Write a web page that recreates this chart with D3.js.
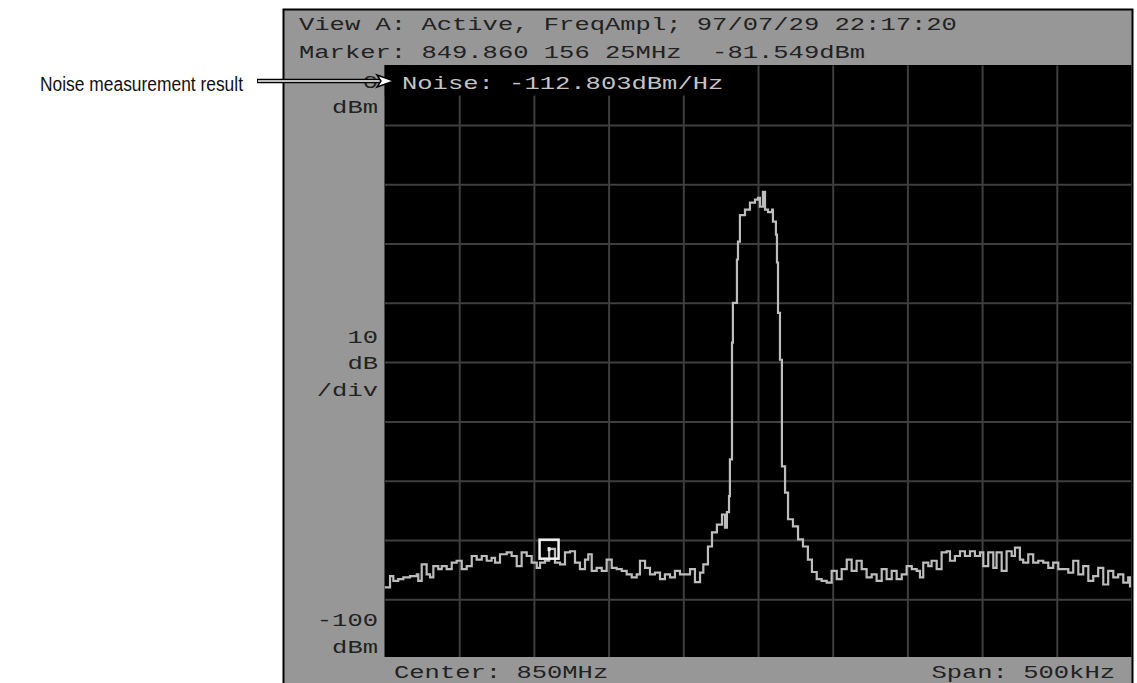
<!DOCTYPE html>
<html>
<head>
<meta charset="utf-8">
<script src="https://cdn.jsdelivr.net/npm/d3@7"></script>
<style>
  html, body { margin: 0; padding: 0; background: #ffffff; }
  svg { display: block; }
</style>
</head>
<body>
<svg id="chart" width="1137" height="683"></svg>
<script>
// ---------------- DATA ----------------
const centerMHz = 850;
const spanKHz = 500;
const refLevelDbm = 0;
const dbPerDiv = 10;
const bottomLevelDbm = -100;

const headerLines = [
  "View A: Active, FreqAmpl; 97/07/29 22:17:20",
  "Marker: 849.860 156 25MHz  -81.549dBm"
];
const noiseText = "Noise: -112.803dBm/Hz";
const centerText = "Center: 850MHz";
const spanText = "Span: 500kHz";
const topAxisLabels = ["0", "dBm"];
const midAxisLabels = ["10", "dB", "/div"];
const bottomAxisLabels = ["-100", "dBm"];
const calloutText = "Noise measurement result";

// grid divisions
const xGridKHz = [-200, -150, -100, -50, 0, 50, 100, 150, 200];
const yGridDbm = [-10, -20, -30, -40, -50, -60, -70, -80, -90];

// marker
const markerFreqKHz = -139.84375;   // 849.860 156 25 MHz
const markerLevelDbm = -81.549;

// trace: frequency offset from center (kHz) and level (dBm)
const traceFreqKHz = [
  -250, -246.3, -244.1, -240.8, -237.4, -232.9, -228.4, -227.4, -225.1, -221.8,
  -219.5, -217.3, -214.0, -211.7, -208.4, -205.0, -201.7, -198.3, -195.0, -191.6,
  -188.3, -184.9, -181.6, -178.3, -176.0, -172.7, -168.2, -164.9, -161.5, -158.2,
  -154.8, -151.5, -148.1, -145.9, -142.6, -139.8, -135.9, -132.5, -129.2, -125.8,
  -122.5, -119.2, -115.8, -113.6, -111.3, -108.0, -104.6, -101.3, -97.9, -94.6,
  -91.2, -87.9, -84.5, -81.2, -79.0, -75.6, -72.3, -69.0, -65.6, -62.3,
  -58.9, -55.6, -52.2, -48.9, -45.5, -42.2, -38.8, -36.6, -33.5, -30.8,
  -27.5, -24.1, -22.1, -20.8, -19.4, -18.8, -17.4, -16.8, -14.1, -13.4,
  -12.1, -8.7, -5.4, -2.0, 0.0, 1.3, 3.3, 4.7, 6.7, 9.4,
  10.0, 12.0, 12.7, 13.4, 14.7, 16.0, 18.1, 20.1, 23.4, 26.8,
  30.1, 33.4, 36.1, 39.3, 42.6, 46.0, 49.3, 52.7, 56.0, 59.4,
  62.7, 66.0, 69.4, 72.7, 76.1, 79.4, 82.8, 86.1, 89.5, 92.8,
  96.2, 99.5, 102.9, 106.2, 108.4, 110.6, 114.0, 116.2, 119.6, 122.9,
  126.3, 128.5, 131.8, 135.2, 138.5, 141.9, 145.2, 148.6, 150.8, 154.1,
  157.5, 159.7, 163.1, 166.4, 169.8, 172.0, 175.3, 177.5, 180.9, 184.2,
  187.6, 190.9, 194.3, 197.6, 201.0, 204.3, 207.7, 211.0, 214.4, 217.7,
  221.1, 224.4, 227.7, 231.1, 234.4, 237.8, 241.1, 244.5, 247.8, 249.0
];
const traceLevelDbm = [
  -88.0, -86.1, -86.9, -86.6, -86.3, -86.1, -85.8, -86.9, -84.1, -85.8,
  -86.3, -84.4, -84.9, -84.4, -84.9, -83.8, -83.5, -84.9, -84.4, -82.7,
  -83.3, -82.7, -83.5, -83.0, -83.8, -82.4, -82.1, -82.7, -84.4, -82.1,
  -82.7, -83.8, -84.7, -83.8, -83.5, -81.5, -83.8, -84.1, -82.1, -81.9,
  -83.8, -84.9, -83.3, -82.4, -85.2, -84.7, -85.2, -83.3, -84.7, -84.9,
  -85.2, -85.8, -86.3, -85.8, -83.5, -84.7, -85.8, -85.5, -86.6, -85.8,
  -86.3, -85.2, -85.8, -85.8, -84.9, -87.1, -85.5, -84.1, -81.1, -78.7,
  -77.4, -75.7, -77.9, -75.3, -72.6, -66.4, -46.7, -40.0, -32.7, -29.7,
  -25.2, -24.3, -23.1, -22.6, -22.3, -23.8, -21.3, -24.3, -24.7, -24.3,
  -26.3, -28.5, -33.2, -41.7, -49.6, -67.6, -72.0, -76.5, -77.7, -79.9,
  -81.1, -83.3, -85.4, -86.6, -86.9, -87.2, -85.2, -86.6, -84.9, -83.3,
  -85.2, -83.5, -84.9, -86.3, -85.8, -86.9, -84.9, -86.6, -85.2, -86.6,
  -85.8, -84.4, -84.9, -85.2, -86.3, -83.8, -84.4, -83.5, -84.9, -82.1,
  -81.9, -83.5, -82.7, -81.9, -82.7, -81.9, -82.7, -82.1, -84.4, -82.1,
  -84.7, -82.1, -85.2, -81.9, -82.7, -81.3, -83.3, -83.8, -82.4, -83.8,
  -83.5, -83.8, -84.7, -83.8, -84.9, -84.9, -85.5, -83.5, -85.8, -84.4,
  -86.9, -86.1, -84.7, -87.5, -85.2, -86.3, -85.8, -87.2, -86.3, -88.0
];

// ---------------- STYLE ----------------
const frameGray = "#979797";
const gridColor = "#3e3e3e";
const traceColor = "#bdbdbd";
const screenText = "#c4c4c4";
const darkText = "#222222";
const monoFont = "'Liberation Mono', 'DejaVu Sans Mono', monospace";
const charW = 15.3;

const svg = d3.select("#chart");

const plotL = 384.5, plotR = 1131.5, plotT = 65.6, plotB = 657;

const x = d3.scaleLinear().domain([-spanKHz / 2, spanKHz / 2]).range([plotL, plotR]);
const y = d3.scaleLinear().domain([refLevelDbm, bottomLevelDbm]).range([plotT, plotT + 10 * 59.3]);

// background
svg.append("rect").attr("x", 0).attr("y", 0).attr("width", 1137).attr("height", 683).attr("fill", "#fff");

// instrument frame
svg.append("rect")
  .attr("x", 283.5).attr("y", 9.5).attr("width", 849).attr("height", 700)
  .attr("fill", frameGray).attr("stroke", "#000").attr("stroke-width", 2);

// plot area
svg.append("rect")
  .attr("x", plotL).attr("y", plotT - 0.6).attr("width", plotR - plotL).attr("height", plotB - plotT + 0.6)
  .attr("fill", "#000");

svg.append("defs").append("clipPath").attr("id", "plotclip")
  .append("rect").attr("x", plotL).attr("y", plotT - 0.6).attr("width", plotR - plotL).attr("height", plotB - plotT + 0.6);

const plot = svg.append("g").attr("clip-path", "url(#plotclip)");

// grid via axes
const gx = plot.append("g")
  .attr("transform", `translate(0,${plotB})`)
  .call(d3.axisBottom(x).tickValues(xGridKHz).tickSize(-(plotB - plotT)).tickFormat(""));
const gy = plot.append("g")
  .attr("transform", `translate(${plotL},0)`)
  .call(d3.axisLeft(y).tickValues(yGridDbm).tickSize(-(plotR - plotL)).tickFormat(""));
[gx, gy].forEach(g => {
  g.select(".domain").remove();
  g.selectAll(".tick line").attr("stroke", gridColor).attr("stroke-width", 2);
});

// black band behind noise text
plot.append("rect")
  .attr("x", plotL).attr("y", plotT - 1).attr("width", 355).attr("height", 31)
  .attr("fill", "#000");

// trace
const traceData = traceFreqKHz.map((f, i) => ({ f, v: traceLevelDbm[i] }));
const line = d3.line().x(d => x(d.f)).y(d => y(d.v)).curve(d3.curveStepAfter);
plot.append("path")
  .datum(traceData)
  .attr("d", line)
  .attr("fill", "none")
  .attr("stroke", traceColor)
  .attr("stroke-width", 2.2)
  .attr("stroke-linejoin", "miter");

// marker
const mx = x(markerFreqKHz), my = y(markerLevelDbm);
plot.append("rect")
  .attr("x", mx - 9.5).attr("y", my - 9.5).attr("width", 19).attr("height", 19)
  .attr("fill", "none").attr("stroke", "#f2f2f2").attr("stroke-width", 2.5);
plot.append("rect")
  .attr("x", mx - 1.5).attr("y", my - 2).attr("width", 3).attr("height", 4)
  .attr("fill", "#f2f2f2");

// monospace text helper (wide bitmap-like font)
function mono(parent, str, xStart, yBase, color) {
  return parent.append("text")
    .attr("x", xStart).attr("y", yBase)
    .attr("font-family", monoFont)
    .attr("font-size", 18)
    .attr("fill", color)
    .attr("textLength", str.length * charW)
    .attr("lengthAdjust", "spacingAndGlyphs")
    .attr("xml:space", "preserve")
    .style("white-space", "pre")
    .text(str);
}
function monoRight(parent, str, xEnd, yBase, color) {
  return mono(parent, str, xEnd - str.length * charW, yBase, color);
}

// header
mono(svg, headerLines[0], 299, 30, darkText);
mono(svg, headerLines[1], 299, 58, darkText);

// noise result text on screen
mono(svg, noiseText, 402, 89, screenText);

// y-axis labels
const labelRight = 378;
monoRight(svg, topAxisLabels[0], labelRight, 88, darkText);
monoRight(svg, topAxisLabels[1], labelRight, 113, darkText);
monoRight(svg, midAxisLabels[0], labelRight, 343, darkText);
monoRight(svg, midAxisLabels[1], labelRight, 369, darkText);
monoRight(svg, midAxisLabels[2], labelRight, 396, darkText);
monoRight(svg, bottomAxisLabels[0], labelRight, 626, darkText);
monoRight(svg, bottomAxisLabels[1], labelRight, 653, darkText);

// bottom labels
mono(svg, centerText, 394, 678, darkText);
monoRight(svg, spanText, 1115, 678, darkText);

// callout
svg.append("text")
  .attr("x", 40).attr("y", 91)
  .attr("font-family", "'Liberation Sans Narrow', 'Liberation Sans', Arial, sans-serif")
  .attr("font-size", 20)
  .attr("fill", "#111")
  .attr("textLength", 203)
  .attr("lengthAdjust", "spacingAndGlyphs")
  .text(calloutText);

const arrowY = 81;
svg.append("line")
  .attr("x1", 257).attr("x2", 382).attr("y1", arrowY).attr("y2", arrowY)
  .attr("stroke", "#000").attr("stroke-width", 4.5);
svg.append("line")
  .attr("x1", 258).attr("x2", 382).attr("y1", arrowY).attr("y2", arrowY)
  .attr("stroke", "#fff").attr("stroke-width", 1.5);
svg.append("polygon")
  .attr("points", `377,${arrowY - 6} 394,${arrowY} 377,${arrowY + 6} 381,${arrowY}`)
  .attr("fill", "#fff").attr("stroke", "#000").attr("stroke-width", 1.5)
  .attr("stroke-linejoin", "miter");
</script>
</body>
</html>
